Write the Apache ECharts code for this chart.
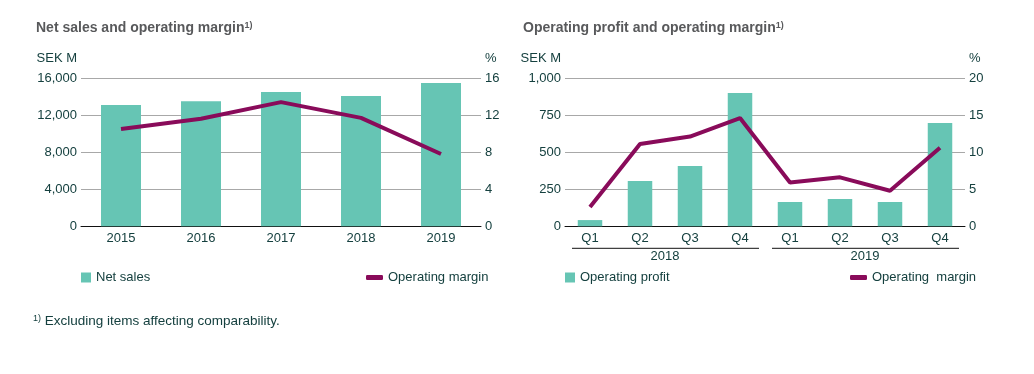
<!DOCTYPE html>
<html><head><meta charset="utf-8">
<script src="https://cdn.jsdelivr.net/npm/echarts@6/dist/echarts.min.js"></script>
<style>html,body{margin:0;padding:0;background:#fff}#c{width:1034px;height:374px}</style>
</head><body><div id="c"></div><script>
// ---- data ----
const years = ['2015', '2016', '2017', '2018', '2019'];
const netSales = [13100, 13500, 14500, 14050, 15450];
const marginAnnual = [10.5, 11.6, 13.4, 11.7, 7.8];
const quarters = ['Q1', 'Q2', 'Q3', 'Q4', 'Q1', 'Q2', 'Q3', 'Q4'];
const quarterYears = ['2018', '2019'];
const opProfit = [42, 305, 407, 899, 164, 184, 164, 697];
const marginQuarterly = [2.6, 11.1, 12.1, 14.6, 5.9, 6.6, 4.8, 10.6];

// ---- style ----
const FONT = 'Arial, "Liberation Sans", sans-serif';
const TXT = '#15403f';
const BAR = '#66c5b4';
const LINE = '#890b5a';
const GRIDC = '#a8a8a8';

const chart = echarts.init(document.getElementById('c'), null, {renderer: 'canvas'});

function yAxisCfg(gridIndex, max, interval, name, pos, fmt) {
  return {
    type: 'value', gridIndex, min: 0, max, interval, position: pos,
    name, nameLocation: 'end', nameGap: 13,
    nameTextStyle: {color: TXT, fontFamily: FONT, fontSize: 13,
      align: pos === 'left' ? 'right' : 'left',
      padding: pos === 'left' ? [0, 4, 0, 0] : [0, 0, 0, 4]},
    axisLine: {show: false}, axisTick: {show: false},
    axisLabel: {color: TXT, fontFamily: FONT, fontSize: 13, margin: 4, formatter: fmt},
    splitLine: {show: pos === 'left', lineStyle: {color: GRIDC, width: 1}}
  };
}
const commas = v => v.toLocaleString('en-US');
const titleStyle = {fontSize: 14, fontWeight: 'bold', color: '#58595b', fontFamily: FONT,
  rich: {s: {fontSize: 9, verticalAlign: 'top', color: '#58595b', fontFamily: FONT, padding: [0, 0, 5, 0]}}};
const legendText = {color: TXT, fontSize: 13, fontFamily: FONT};

const option = {
  animation: false,
  textStyle: {fontFamily: FONT},
  title: [
    {text: 'Net sales and operating margin{s|1)}', left: 36, top: 21, padding: 0, textStyle: titleStyle},
    {text: 'Operating profit and operating margin{s|1)}', left: 523, top: 21, padding: 0, textStyle: titleStyle},
    {text: '{s|1)} Excluding items affecting comparability.', left: 33, top: 314, padding: 0,
     textStyle: {fontSize: 13.5, fontWeight: 'normal', color: TXT, fontFamily: FONT,
       rich: {s: {fontSize: 9, color: TXT, fontFamily: FONT, padding: [0, 0, 6, 0]}}}}
  ],
  legend: [
    {data: ['Net sales'], left: 81, top: 271, padding: 0, icon: 'rect', itemWidth: 10, itemHeight: 10, textStyle: legendText},
    {data: ['Operating margin'], left: 366, top: 271, padding: 0, icon: 'roundRect', itemWidth: 17, itemHeight: 5, textStyle: legendText},
    {data: ['Operating profit'], left: 565, top: 271, padding: 0, icon: 'rect', itemWidth: 10, itemHeight: 10, textStyle: legendText},
    {data: ['Operating  margin'], left: 850, top: 271, padding: 0, icon: 'roundRect', itemWidth: 17, itemHeight: 5, textStyle: legendText}
  ],
  grid: [
    {left: 81, width: 400, top: 78, height: 148.3},
    {left: 565, width: 400, top: 78, height: 148.3}
  ],
  xAxis: [
    {type: 'category', gridIndex: 0, data: years,
     axisLine: {lineStyle: {color: '#111', width: 1}}, axisTick: {show: false},
     axisLabel: {color: TXT, fontFamily: FONT, fontSize: 13, margin: 6}},
    {type: 'category', gridIndex: 1, data: quarters,
     axisLine: {lineStyle: {color: '#111', width: 1}}, axisTick: {show: false},
     axisLabel: {color: TXT, fontFamily: FONT, fontSize: 13, margin: 6}},
    {type: 'category', gridIndex: 1, data: quarterYears, position: 'bottom', offset: 19,
     axisLine: {show: false}, axisTick: {show: false}, splitLine: {show: false},
     axisLabel: {color: TXT, fontFamily: FONT, fontSize: 13, margin: 5}}
  ],
  yAxis: [
    yAxisCfg(0, 16000, 4000, 'SEK M', 'left', commas),
    yAxisCfg(0, 16, 4, '%', 'right', v => String(v)),
    yAxisCfg(1, 1000, 250, 'SEK M', 'left', commas),
    yAxisCfg(1, 20, 5, '%', 'right', v => String(v))
  ],
  series: [
    {name: 'Net sales', type: 'bar', xAxisIndex: 0, yAxisIndex: 0, data: netSales,
     barWidth: '50%', itemStyle: {color: BAR}},
    {name: 'Operating margin', type: 'line', xAxisIndex: 0, yAxisIndex: 1, data: marginAnnual,
     symbol: 'none', lineStyle: {color: LINE, width: 4}, itemStyle: {color: LINE}},
    {name: 'Operating profit', type: 'bar', xAxisIndex: 1, yAxisIndex: 2, data: opProfit,
     barWidth: '49%', itemStyle: {color: BAR}},
    {name: 'Operating  margin', type: 'line', xAxisIndex: 1, yAxisIndex: 3, data: marginQuarterly,
     symbol: 'none', lineStyle: {color: LINE, width: 4}, itemStyle: {color: LINE}}
  ]
};
chart.setOption(option);

// group separator lines under the quarter labels, derived from the year axis scale
const c0 = chart.convertToPixel({xAxisIndex: 2}, 0);
const c1 = chart.convertToPixel({xAxisIndex: 2}, 1);
const half = (c1 - c0) / 2;
const yBase = chart.convertToPixel({yAxisIndex: 2}, 0);
const seps = quarterYears.map((y, i) => {
  const c = chart.convertToPixel({xAxisIndex: 2}, i);
  return {type: 'line', silent: true,
    shape: {x1: c - half + 7, y1: yBase + 22, x2: c + half - 6, y2: yBase + 22},
    style: {stroke: '#111', lineWidth: 1}};
});
chart.setOption({graphic: seps});
</script></body></html>
